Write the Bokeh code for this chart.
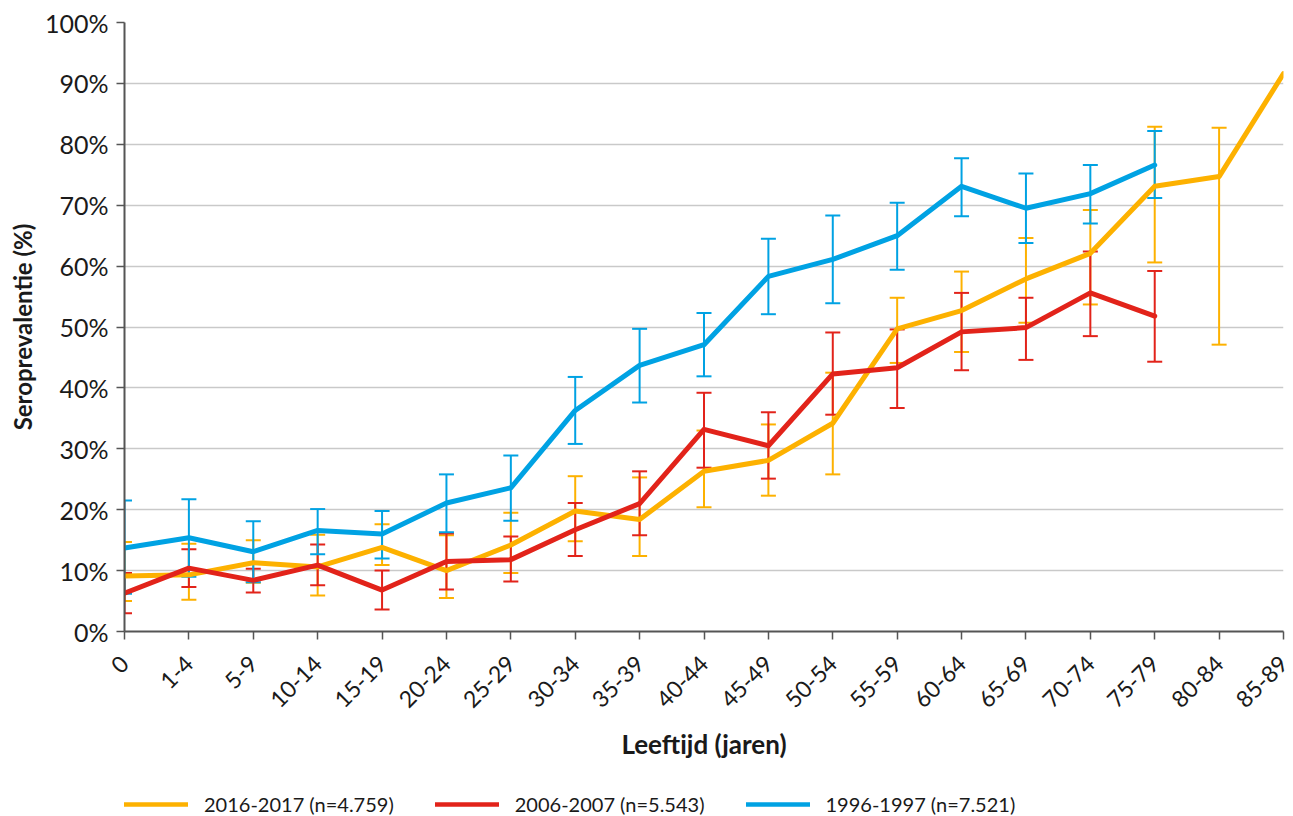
from math import pi
from bokeh.plotting import figure
from bokeh.layouts import column
from bokeh.models import (ColumnDataSource, Range1d, FixedTicker, Whisker, TeeHead,
                          Legend, LegendItem, PrintfTickFormatter)
from bokeh.embed import file_html
from bokeh.resources import INLINE

age_groups = ["0", "1-4", "5-9", "10-14", "15-19", "20-24", "25-29", "30-34", "35-39",
              "40-44", "45-49", "50-54", "55-59", "60-64", "65-69", "70-74", "75-79",
              "80-84", "85-89"]

# 2016-2017 (n=4.759)
y2016 = [9.1, 9.3, 11.3, 10.6, 13.8, 10.0, 14.2, 19.8, 18.4, 26.3, 28.1, 34.2, 49.7,
         52.7, 57.9, 62.1, 73.1, 74.7, 91.6]
lo2016 = [5.0, 5.2, 8.0, 5.9, 10.9, 5.5, 9.6, 14.8, 12.4, 20.4, 22.3, 25.8, 44.1,
          45.9, 50.7, 53.7, 60.6, 47.1, None]
hi2016 = [14.7, 14.4, 15.0, 15.9, 17.6, 15.8, 19.5, 25.5, 25.3, 33.0, 34.0, 42.5, 54.8,
          59.1, 64.6, 69.2, 82.9, 82.7, None]

# 2006-2007 (n=5.543)
y2006 = [6.3, 10.4, 8.4, 10.9, 6.8, 11.5, 11.8, 16.7, 21.0, 33.2, 30.5, 42.3, 43.3,
         49.2, 49.9, 55.6, 51.8]
lo2006 = [3.0, 7.3, 6.4, 7.6, 3.6, 6.9, 8.2, 12.4, 15.8, 26.9, 25.1, 35.6, 36.7,
          42.9, 44.6, 48.5, 44.3]
hi2006 = [9.6, 13.5, 10.3, 14.3, 10.0, 16.1, 15.6, 21.1, 26.3, 39.2, 36.0, 49.1, 49.6,
          55.6, 54.8, 62.4, 59.2]

# 1996-1997 (n=7.521)
y1996 = [13.7, 15.4, 13.1, 16.6, 16.0, 21.1, 23.6, 36.3, 43.7, 47.1, 58.3, 61.1, 65.0,
         73.1, 69.5, 71.9, 76.6]
lo1996 = [6.2, 9.0, 8.1, 12.7, 12.0, 16.3, 18.2, 30.8, 37.6, 41.9, 52.1, 53.9, 59.4,
          68.2, 63.8, 67.0, 71.2]
hi1996 = [21.5, 21.7, 18.1, 20.1, 19.8, 25.8, 28.9, 41.8, 49.7, 52.3, 64.5, 68.3, 70.4,
          77.7, 75.2, 76.6, 82.2]

series = [
    ("2016-2017 (n=4.759)", y2016, lo2016, hi2016, "#FDB100"),
    ("2006-2007 (n=5.543)", y2006, lo2006, hi2006, "#E2231A"),
    ("1996-1997 (n=7.521)", y1996, lo1996, hi1996, "#00A2E3"),
]

FONT = "Lato"
TXT = "#1a1a1a"
MAIN_H = 776
LEG_H = 40

p = figure(width=1293, height=MAIN_H, output_backend="svg", toolbar_location=None,
           x_range=Range1d(0, len(age_groups) - 1), y_range=Range1d(0, 100),
           min_border_left=124, min_border_right=10, min_border_top=22,
           min_border_bottom=MAIN_H - 631)
p.outline_line_color = None
p.background_fill_color = "white"
p.border_fill_color = "white"

p.xgrid.grid_line_color = None
p.ygrid.grid_line_color = "#c9c9c9"
p.ygrid.grid_line_width = 1.5

# y axis
p.yaxis.ticker = FixedTicker(ticks=list(range(0, 101, 10)))
p.yaxis.formatter = PrintfTickFormatter(format="%d%%")
p.yaxis.axis_label = "Seroprevalentie (%)"
p.yaxis.major_label_standoff = 8
p.yaxis.axis_label_standoff = 5

# x axis
p.xaxis.ticker = FixedTicker(ticks=list(range(len(age_groups))))
p.xaxis.major_label_overrides = {i: lab for i, lab in enumerate(age_groups)}
p.xaxis.major_label_orientation = pi / 4
p.xaxis.axis_label = "Leeftijd (jaren)"
p.xaxis.major_label_standoff = 20
p.xaxis.axis_label_standoff = 10

for ax in (p.xaxis, p.yaxis):
    ax.axis_line_color = "#555555"
    ax.axis_line_width = 2
    ax.major_tick_line_color = "#555555"
    ax.major_tick_line_width = 1.5
    ax.major_tick_out = 8
    ax.major_tick_in = 0
    ax.minor_tick_line_color = None
    ax.major_label_text_font = FONT
    ax.major_label_text_color = TXT
    ax.axis_label_text_font = FONT
    ax.axis_label_text_font_style = "bold"
    ax.axis_label_text_color = TXT

p.yaxis.major_label_text_font_size = "25px"
p.xaxis.major_label_text_font_size = "23px"
p.yaxis.axis_label_text_font_size = "24px"
p.xaxis.axis_label_text_font_size = "26px"

for name, vals, lo, hi, col in series:
    idx = [i for i in range(len(vals)) if lo[i] is not None and hi[i] is not None]
    src = ColumnDataSource(dict(x=idx, lower=[lo[i] for i in idx], upper=[hi[i] for i in idx]))
    w = Whisker(source=src, base="x", lower="lower", upper="upper",
                line_color=col, line_width=2, level="underlay",
                upper_head=TeeHead(size=15, line_color=col, line_width=2),
                lower_head=TeeHead(size=15, line_color=col, line_width=2))
    p.add_layout(w)

for name, vals, lo, hi, col in series:
    p.line(list(range(len(vals))), vals, line_color=col, line_width=5,
           line_join="round", line_cap="round")

# legend strip below the chart (its frame is aligned with the chart's frame)
lg = figure(width=1293, height=LEG_H, output_backend="svg", toolbar_location=None,
            x_range=Range1d(0, 1), y_range=Range1d(0, 1),
            x_axis_location=None, y_axis_location=None,
            min_border_left=0, min_border_right=0, min_border_top=0, min_border_bottom=0)
lg.grid.visible = False
lg.outline_line_color = None
lg.background_fill_color = "white"
lg.border_fill_color = "white"

items = []
for name, vals, lo, hi, col in series:
    # single-point line: draws nothing itself, only provides the legend swatch
    r = lg.line([0], [0], line_color=col, line_width=4.5, line_cap="round")
    items.append(LegendItem(label=name, renderers=[r]))

legend = Legend(items=items, location=(0, 0), orientation="horizontal",
                glyph_width=64, glyph_height=20, label_standoff=16, spacing=41,
                padding=0, margin=0, border_line_alpha=0, background_fill_alpha=0,
                label_text_font=FONT, label_text_font_size="20px",
                label_text_color=TXT)
lg.add_layout(legend)

layout = column(p, lg, spacing=0)
open("out.html", "w").write(file_html(layout, INLINE))
